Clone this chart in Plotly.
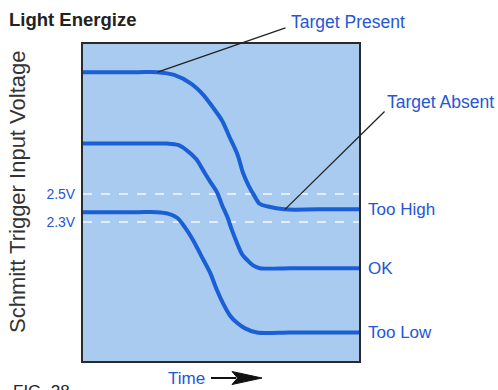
import plotly.graph_objects as go

# ---- data (time in arbitrary units 0..100, voltage in V) ----
t_present = [0, 10, 20, 27, 33, 39, 43.5, 47, 50.5, 53, 56, 58, 60, 62, 64, 67, 73, 85, 100]
v_present = [3.37, 3.37, 3.37, 3.37, 3.35, 3.29, 3.21, 3.12, 3.02, 2.91, 2.78, 2.65, 2.56, 2.49, 2.43, 2.41, 2.39, 2.39, 2.39]

t_ok = [0, 10, 20, 30.4, 34.4, 37.7, 41, 43.5, 46, 48.6, 50.4, 52.2, 54, 55.8, 57.6, 59.4, 61.6, 64.1, 75, 88, 100]
v_ok = [2.86, 2.86, 2.86, 2.86, 2.85, 2.81, 2.75, 2.67, 2.59, 2.51, 2.42, 2.34, 2.24, 2.15, 2.07, 2.03, 1.99, 1.97, 1.97, 1.97, 1.97]

t_low = [0, 10, 20, 26.8, 30.8, 34.1, 37, 39.9, 42.8, 46, 48.6, 50.7, 53.3, 55.8, 58.7, 63, 75, 88, 100]
v_low = [2.37, 2.37, 2.37, 2.37, 2.36, 2.33, 2.26, 2.17, 2.06, 1.94, 1.81, 1.72, 1.63, 1.58, 1.54, 1.51, 1.51, 1.51, 1.51]

end_labels = ["Too High", "OK", "Too Low"]
thresholds = [2.5, 2.3]
threshold_labels = ["2.5V", "2.3V"]

x_range = [0, 100]
y_range = [1.307, 3.571]

curve_color = "#1A5FD6"
text_blue = "#2456D6"
font_family = "Liberation Sans, Arial, sans-serif"


def px(xp):
    return (xp - 83) / 276.0


def py(yp):
    return (361 - yp) / 317.0


def vy(v):
    return (v - y_range[0]) / (y_range[1] - y_range[0])


fig = go.Figure()
for tt, vv in [(t_present, v_present), (t_ok, v_ok), (t_low, v_low)]:
    fig.add_trace(go.Scatter(x=tt, y=vv, mode="lines",
                             line=dict(color=curve_color, width=4, shape="spline", smoothing=0.9),
                             hoverinfo="skip", showlegend=False))

# threshold dashed lines
for th in thresholds:
    fig.add_shape(type="line", xref="x domain", yref="y", x0=0, x1=1, y0=th, y1=th,
                  line=dict(color="rgba(255,255,255,0.9)", width=1.5, dash="dash"), layer="below")

annotations = []
# end labels
for lab, vv in zip(end_labels, [v_present, v_ok, v_low]):
    annotations.append(dict(x=px(366), y=vy(vv[-1]), xref="paper", yref="paper", text=lab, showarrow=False,
                            xanchor="left", yanchor="middle",
                            font=dict(family=font_family, size=17, color=text_blue)))

# Target Present leader + label
annotations.append(dict(x=t_present[3], y=v_present[3], xref="x", yref="y",
                        ax=73.9, ay=3.69, axref="x", ayref="y", text="",
                        showarrow=True, arrowhead=0, arrowwidth=1.3, arrowcolor="#222", standoff=0))
annotations.append(dict(x=px(289), y=py(22), xref="paper", yref="paper", text="Target Present", showarrow=False,
                        xanchor="left", yanchor="middle",
                        font=dict(family=font_family, size=17.5, color=text_blue)))
# Target Absent leader + label
annotations.append(dict(x=73.2, y=v_present[-1], xref="x", yref="y",
                        ax=109.8, ay=3.10, axref="x", ayref="y", text="",
                        showarrow=True, arrowhead=0, arrowwidth=1.3, arrowcolor="#222", standoff=0))
annotations.append(dict(x=px(385), y=py(102), xref="paper", yref="paper", text="Target Absent", showarrow=False,
                        xanchor="left", yanchor="middle",
                        font=dict(family=font_family, size=17.5, color=text_blue)))

# title
annotations.append(dict(x=px(7), y=py(19), xref="paper", yref="paper", text="<b>Light Energize</b>",
                        showarrow=False, xanchor="left", yanchor="middle",
                        font=dict(family=font_family, size=18.5, color="#222")))
# y axis title
annotations.append(dict(x=px(17), y=py(192), xref="paper", yref="paper", text="Schmitt Trigger Input Voltage",
                        textangle=-90, showarrow=False, xanchor="center", yanchor="middle",
                        font=dict(family=font_family, size=22, color="#333")))
# Time label
annotations.append(dict(x=px(166), y=py(378), xref="paper", yref="paper", text="Time", showarrow=False,
                        xanchor="left", yanchor="middle",
                        font=dict(family=font_family, size=17, color=text_blue)))
# FIG. 28 (cut by the bottom edge, as in the reference)
annotations.append(dict(x=px(11), y=py(380), xref="paper", yref="paper", text="FIG. 28", showarrow=False,
                        xanchor="left", yanchor="top",
                        font=dict(family=font_family, size=17, color="#222")))

# Time arrow (stem + head)
fig.add_shape(type="line", xref="paper", yref="paper",
              x0=px(211), x1=px(236), y0=py(378), y1=py(378),
              line=dict(color="#111", width=2))
hx0 = px(232)
hx1 = px(262)
yc = py(378)
dy = 6.5 / 317
fig.add_shape(type="path", xref="paper", yref="paper",
              path=f"M {hx0} {yc+dy} L {hx1} {yc} L {hx0} {yc-dy} L {hx0+0.02} {yc} Z",
              fillcolor="#111", line=dict(color="#111", width=1))

fig.update_layout(
    width=498, height=390,
    margin=dict(l=83, r=139, t=44, b=29),
    paper_bgcolor="white", plot_bgcolor="#A8CBEF",
    annotations=annotations,
    showlegend=False,
)
fig.update_xaxes(range=x_range, showgrid=False, zeroline=False, showticklabels=False, ticks="",
                 showline=True, mirror=True, linecolor="#2a2a2a", linewidth=2)
fig.update_yaxes(range=y_range, showgrid=False, zeroline=False, tickvals=thresholds,
                 ticktext=threshold_labels, ticks="", ticklabelstandoff=3,
                 tickfont=dict(family=font_family, size=14, color=text_blue),
                 showline=True, mirror=True, linecolor="#2a2a2a", linewidth=2)

fig.write_html("out.html", config={"displayModeBar": False},
               post_script="document.body.style.margin='0';")
